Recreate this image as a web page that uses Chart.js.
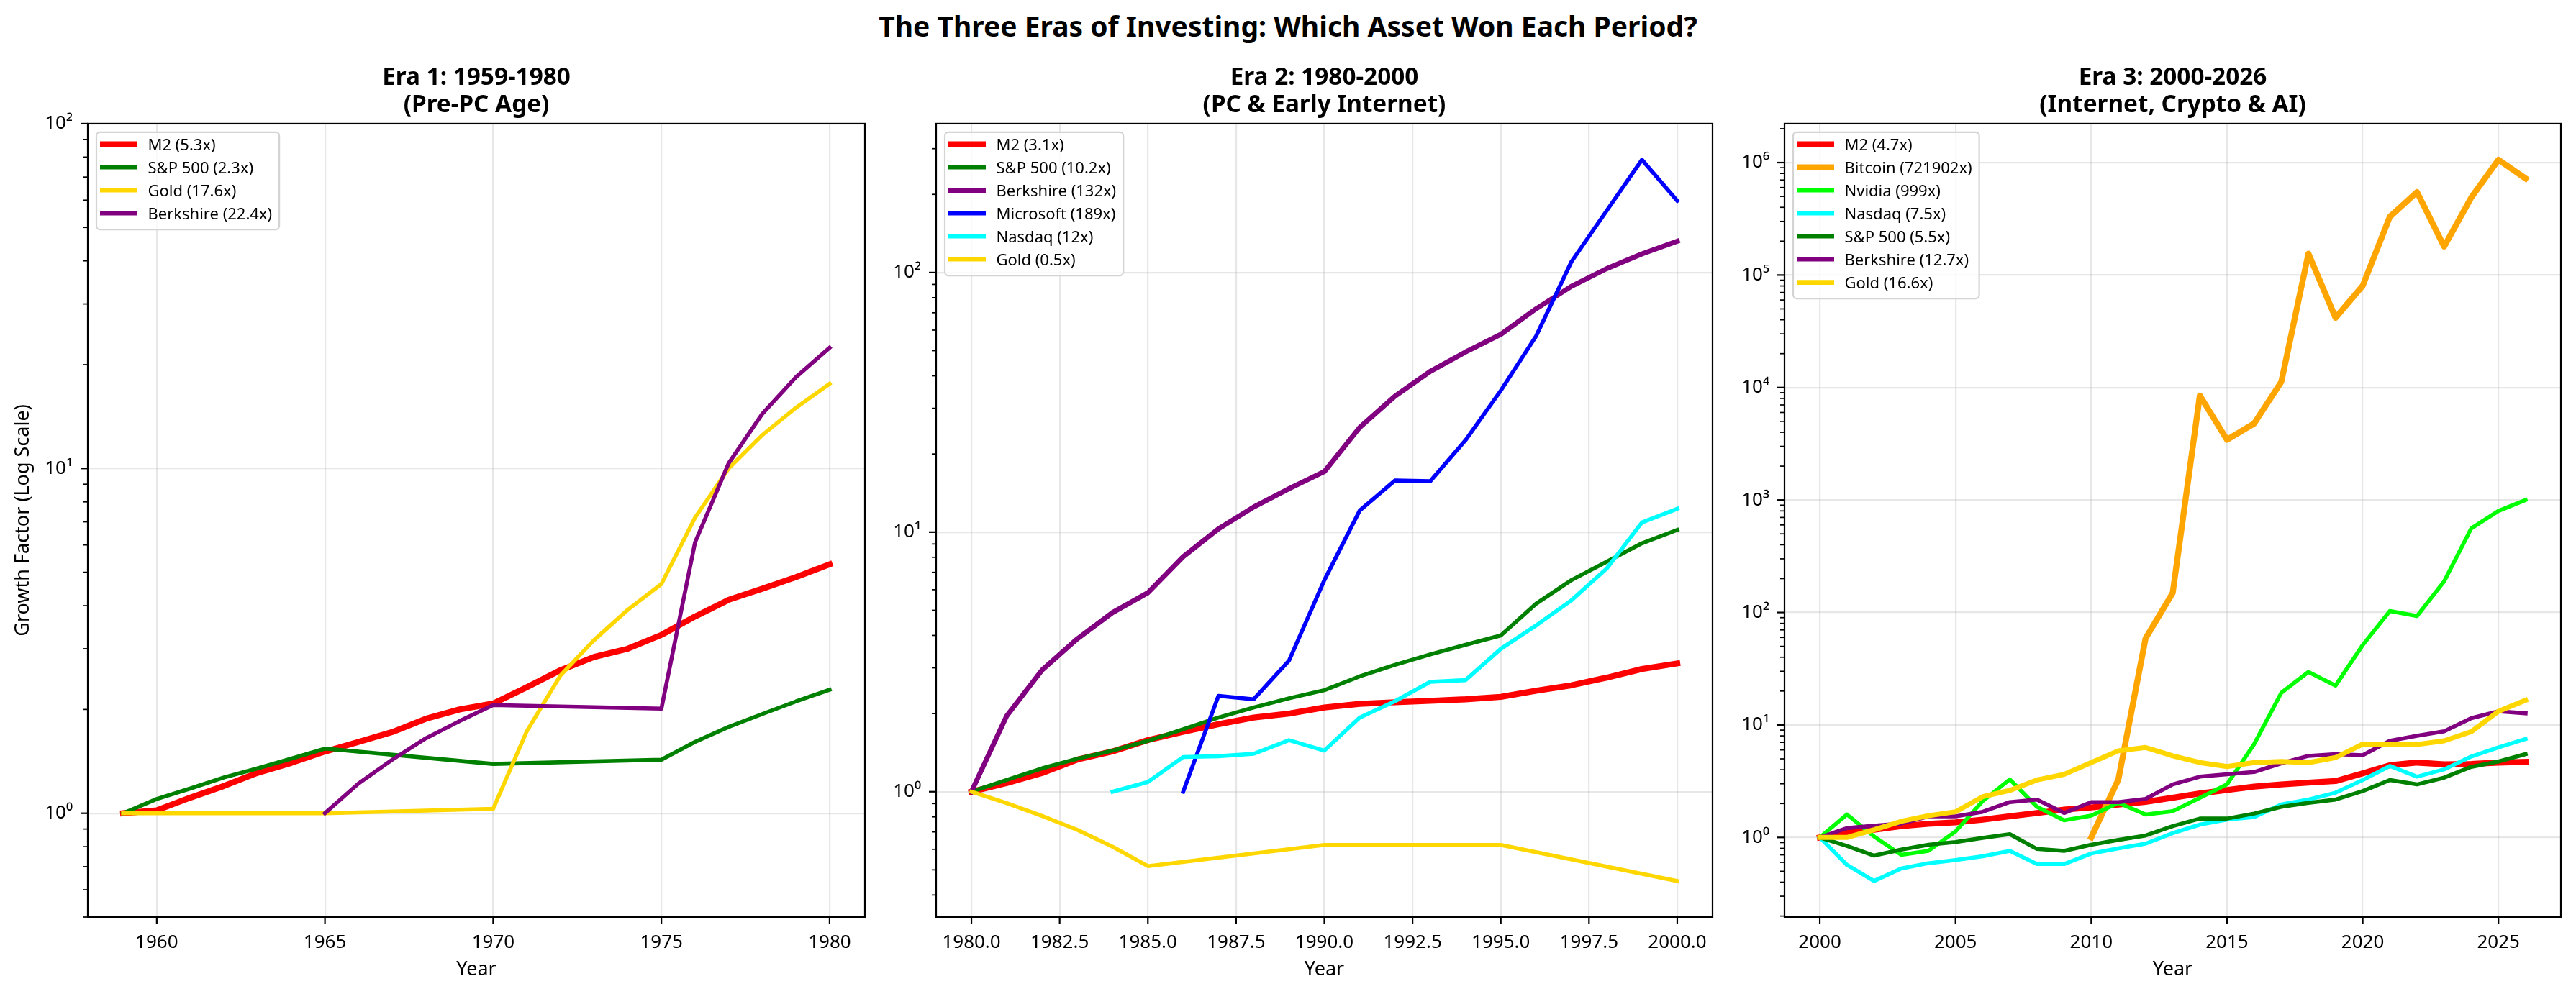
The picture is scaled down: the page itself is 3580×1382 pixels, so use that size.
<!DOCTYPE html>
<html>
<head>
<meta charset="utf-8">
<title>The Three Eras of Investing</title>
<script src="https://cdn.jsdelivr.net/npm/chart.js@4.4.1/dist/chart.umd.min.js"></script>
<style>
  html, body { margin: 0; padding: 0; background: #fff; }
  body { width: 3580px; height: 1382px; position: relative; overflow: hidden; }
  #suptitle { position: absolute; left: 0; top: 16px; width: 3580px; text-align: center;
              font: bold 39px/40px "Noto Sans", sans-serif; color: #000; }
  canvas { position: absolute; top: 0; }
</style>
</head>
<body>
<div id="suptitle">The Three Eras of Investing: Which Asset Won Each Period?</div>
<canvas id="era1" width="1324" height="1382" style="left:0px"></canvas>
<canvas id="era2" width="1221" height="1382" style="left:1230px"></canvas>
<canvas id="era3" width="1219" height="1382" style="left:2410px"></canvas>
<script>
// ---------- data (growth factor, start of each series = 1) ----------
const era1Years = [1959, 1960, 1961, 1962, 1963, 1964, 1965, 1966, 1967, 1968, 1969,
                   1970, 1971, 1972, 1973, 1974, 1975, 1976, 1977, 1978, 1979, 1980];
const era1M2   = [1.00, 1.02, 1.11, 1.20, 1.31, 1.40, 1.51, 1.61, 1.72, 1.88, 2.00,
                  2.08, 2.32, 2.60, 2.84, 3.00, 3.29, 3.72, 4.16, 4.48, 4.84, 5.27];
const era1SP   = [1.00, 1.10, 1.18, 1.27, 1.35, 1.44, 1.54, null, null, null, null,
                  1.39, null, null, null, null, 1.43, 1.61, 1.78, 1.94, 2.11, 2.28];
const era1Gold = [1.00, null, null, null, null, null, 1.00, null, null, null, null,
                  1.03, 1.73, 2.51, 3.18, 3.89, 4.62, 7.20, 10.0, 12.5, 15.0, 17.6];
const era1Berk = [null, null, null, null, null, null, 1.00, 1.22, 1.43, 1.65, 1.85,
                  2.06, null, null, null, null, 2.01, 6.10, 10.35, 14.4, 18.4, 22.4];
const era1Labels = ['M2 (5.3x)', 'S&P 500 (2.3x)', 'Gold (17.6x)', 'Berkshire (22.4x)'];
const era1Title = ['Era 1: 1959-1980', '(Pre-PC Age)'];
const era1XTicks = [1960, 1965, 1970, 1975, 1980];

const era2Years = [1980, 1981, 1982, 1983, 1984, 1985, 1986, 1987, 1988, 1989, 1990,
                   1991, 1992, 1993, 1994, 1995, 1996, 1997, 1998, 1999, 2000];
const era2M2     = [1.00, 1.08, 1.18, 1.33, 1.43, 1.58, 1.70, 1.82, 1.93, 2.00, 2.11,
                    2.18, 2.21, 2.24, 2.27, 2.32, 2.45, 2.57, 2.75, 2.97, 3.12];
const era2SP     = [1.00, 1.11, 1.23, 1.34, 1.44, 1.57, 1.74, 1.93, 2.11, 2.29, 2.46,
                    2.78, 3.08, 3.38, 3.68, 4.00, 5.30, 6.53, 7.69, 9.06, 10.2];
const era2Berk   = [1.00, 1.96, 2.94, 3.88, 4.90, 5.84, 8.04, 10.3, 12.5, 14.7, 17.1,
                    25.3, 33.4, 41.6, 49.4, 57.8, 72.5, 88.5, 103.5, 118, 132];
const era2MSFT   = [null, null, null, null, null, null, 1.00, 2.34, 2.27, 3.20, 6.53,
                    12.1, 15.8, 15.7, 22.6, 35.1, 56.9, 110, 173, 272, 189];
const era2Nasdaq = [null, null, null, null, 1.00, 1.09, 1.36, 1.37, 1.40, 1.58, 1.44,
                    1.93, 2.23, 2.65, 2.69, 3.55, 4.37, 5.46, 7.24, 10.9, 12.3];
const era2Gold   = [1.00, 0.904, 0.807, 0.713, 0.614, 0.517, null, null, null, null, 0.624,
                    null, null, null, null, 0.624, null, null, null, null, 0.453];
const era2Labels = ['M2 (3.1x)', 'S&P 500 (10.2x)', 'Berkshire (132x)', 'Microsoft (189x)', 'Nasdaq (12x)', 'Gold (0.5x)'];
const era2Title = ['Era 2: 1980-2000', '(PC & Early Internet)'];
const era2XTicks = [1980, 1982.5, 1985, 1987.5, 1990, 1992.5, 1995, 1997.5, 2000];

const era3Years = [2000, 2001, 2002, 2003, 2004, 2005, 2006, 2007, 2008, 2009, 2010, 2011, 2012, 2013,
                   2014, 2015, 2016, 2017, 2018, 2019, 2020, 2021, 2022, 2023, 2024, 2025, 2026];
const era3M2      = [1.00, 1.11, 1.17, 1.26, 1.32, 1.36, 1.44, 1.54, 1.65, 1.77, 1.85, 1.96, 2.07, 2.25,
                     2.46, 2.64, 2.83, 2.96, 3.07, 3.17, 3.71, 4.38, 4.63, 4.47, 4.50, 4.63, 4.70];
const era3Bitcoin = [null, null, null, null, null, null, null, null, null, null, 1.00, 3.28, 58.8, 149,
                     8500, 3437, 4786, 11200, 155000, 41700, 80300, 330000, 547000, 179000, 490000, 1060000, 721902];
const era3Nvidia  = [1.00, 1.60, 1.02, 0.70, 0.76, 1.13, 2.10, 3.28, 1.87, 1.42, 1.56, 2.03, 1.60, 1.71,
                     2.25, 2.96, 6.75, 19.3, 29.6, 22.4, 51.3, 103, 93, 189, 560, 800, 999];
const era3Nasdaq  = [1.00, 0.57, 0.41, 0.53, 0.59, 0.63, 0.68, 0.76, 0.58, 0.58, 0.72, 0.80, 0.88, 1.09,
                     1.30, 1.44, 1.52, 1.96, 2.17, 2.50, 3.24, 4.32, 3.47, 4.03, 5.24, 6.31, 7.50];
const era3SP      = [1.00, 0.84, 0.69, 0.78, 0.86, 0.91, 0.99, 1.07, 0.79, 0.76, 0.86, 0.95, 1.04, 1.26,
                     1.47, 1.47, 1.63, 1.87, 2.03, 2.17, 2.58, 3.24, 2.96, 3.40, 4.24, 4.73, 5.50];
const era3Berk    = [1.00, 1.21, 1.27, 1.33, 1.54, 1.54, 1.69, 2.06, 2.17, 1.65, 2.06, 2.06, 2.20, 2.96,
                     3.47, 3.64, 3.82, 4.56, 5.31, 5.50, 5.38, 7.23, 8.00, 8.77, 11.5, 13.2, 12.7];
const era3Gold    = [1.00, 1.00, 1.17, 1.39, 1.56, 1.69, 2.30, 2.62, 3.24, 3.64, 4.63, 5.89, 6.31, 5.31,
                     4.63, 4.27, 4.63, 4.73, 4.63, 5.13, 6.75, 6.70, 6.70, 7.23, 8.71, 13.2, 16.6];
const era3Labels = ['M2 (4.7x)', 'Bitcoin (721902x)', 'Nvidia (999x)', 'Nasdaq (7.5x)', 'S&P 500 (5.5x)', 'Berkshire (12.7x)', 'Gold (16.6x)'];
const era3Title = ['Era 3: 2000-2026', '(Internet, Crypto & AI)'];
const era3XTicks = [2000, 2005, 2010, 2015, 2020, 2025];

// ---------- styling ----------
const FONT = '"Noto Sans", "Open Sans", sans-serif';
Chart.defaults.font.family = FONT;
Chart.defaults.color = '#000';

const GRID = 'rgba(176,176,176,0.3)';
const LW2 = 5.56, LW25 = 6.94, LW3 = 8.33;   // matplotlib linewidths at 200 dpi

const SUP = { '-': '\u207B', '0': '\u2070', '1': '\u00B9', '2': '\u00B2', '3': '\u00B3', '4': '\u2074',
              '5': '\u2075', '6': '\u2076', '7': '\u2077', '8': '\u2078', '9': '\u2079' };

function isDecade(v) {
  const l = Math.log10(v);
  return Math.abs(l - Math.round(l)) < 1e-9;
}
function decadeLabel(v) {
  const e = String(Math.round(Math.log10(v)));
  return '10' + e.split('').map(c => SUP[c]).join('');
}
function logTicks(min, max) {
  const out = [];
  for (let e = Math.floor(Math.log10(min)); e <= Math.ceil(Math.log10(max)); e++) {
    for (let m = 1; m < 10; m++) {
      const v = m * Math.pow(10, e);
      if (v >= min * (1 - 1e-9) && v <= max * (1 + 1e-9)) out.push({ value: v });
    }
  }
  return out;
}
// matplotlib style autoscale: 5% margin (in log space for y)
function logLimits(series) {
  const vals = series.flat().filter(v => v !== null);
  const lo = Math.log10(Math.min(...vals)), hi = Math.log10(Math.max(...vals));
  const pad = (hi - lo) * 0.05;
  return [Math.pow(10, lo - pad), Math.pow(10, hi + pad)];
}
function yearLimits(years) {
  const a = years[0], b = years[years.length - 1], pad = (b - a) * 0.05;
  return [a - pad, b + pad];
}

// outward ticks (major/minor) and the four spines
const axisDecor = {
  id: 'axisDecor',
  afterDatasetsDraw(chart) {
    const { ctx, chartArea: a, scales: { x, y } } = chart;
    ctx.save();
    ctx.strokeStyle = '#000';
    ctx.lineCap = 'butt';
    ctx.lineWidth = 2.2;
    x.ticks.forEach(t => {
      const px = x.getPixelForValue(t.value);
      ctx.beginPath(); ctx.moveTo(px, a.bottom); ctx.lineTo(px, a.bottom + 10); ctx.stroke();
    });
    y.ticks.forEach(t => {
      const py = y.getPixelForValue(t.value);
      const major = isDecade(t.value);
      ctx.lineWidth = major ? 2.2 : 1.7;
      ctx.beginPath(); ctx.moveTo(a.left - (major ? 10 : 6), py); ctx.lineTo(a.left, py); ctx.stroke();
    });
    ctx.lineWidth = 2.2;
    ctx.strokeRect(a.left, a.top, a.right - a.left, a.bottom - a.top);
    ctx.restore();
  }
};

// legend box in the upper left of the plot
const frameLegend = {
  id: 'frameLegend',
  afterDraw(chart) {
    const { ctx, chartArea: a } = chart;
    const sets = chart.data.datasets;
    ctx.save();
    ctx.font = '22px ' + FONT;
    const textW = Math.max(...sets.map(s => ctx.measureText(s.label).width));
    const left = a.left + 12, top = a.top + 12;
    const w = 71.5 + textW + 10, h = 16.7 + (sets.length - 1) * 32 + 22.5, r = 5;
    ctx.beginPath();
    ctx.moveTo(left + r, top);
    ctx.arcTo(left + w, top, left + w, top + h, r);
    ctx.arcTo(left + w, top + h, left, top + h, r);
    ctx.arcTo(left, top + h, left, top, r);
    ctx.arcTo(left, top, left + w, top, r);
    ctx.closePath();
    ctx.fillStyle = 'rgba(255,255,255,0.8)';
    ctx.fill();
    ctx.strokeStyle = '#d4d4d4';
    ctx.lineWidth = 2.2;
    ctx.stroke();
    sets.forEach((s, i) => {
      const yy = top + 16.7 + i * 32;
      ctx.strokeStyle = s.borderColor;
      ctx.lineWidth = s.borderWidth;
      ctx.lineCap = 'butt';
      ctx.beginPath(); ctx.moveTo(left + 5, yy); ctx.lineTo(left + 57, yy); ctx.stroke();
      ctx.fillStyle = '#000';
      ctx.textBaseline = 'middle';
      ctx.textAlign = 'left';
      ctx.fillText(s.label, left + 71.5, yy + 2.5);
    });
    ctx.restore();
  }
};

function drawEra(id, p) {
  const [xMin, xMax] = yearLimits(p.years);
  const [yMin, yMax] = p.yRange || logLimits(p.series.map(s => s[1]));
  new Chart(document.getElementById(id), {
    type: 'line',
    data: {
      datasets: p.series.map((s, i) => ({
        label: s[0],
        data: p.years.map((x, k) => ({ x: x, y: s[1][k] })).filter(d => d.y !== null),
        borderColor: s[2],
        backgroundColor: s[2],
        borderWidth: s[3],
        pointRadius: 0,
        tension: 0,
        fill: false,
        borderJoinStyle: 'round',
        borderCapStyle: 'square',
        xAxisID: 'x',
        yAxisID: 'y',
        order: -i
      }))
    },
    options: {
      responsive: false,
      animation: false,
      events: [],
      devicePixelRatio: 1,
      layout: { padding: { top: 70, left: 0, right: 0, bottom: 0 } },
      plugins: {
        legend: { display: false },
        tooltip: { enabled: false },
        title: {
          display: true, text: p.title, color: '#000',
          font: { size: 33.3, weight: 'bold', lineHeight: 1.14 },
          padding: { top: 19.4, bottom: 6.6 }
        }
      },
      scales: {
        x: {
          type: 'linear', position: 'bottom', min: xMin, max: xMax, bounds: 'data',
          grid: { color: GRID, lineWidth: 2.2, drawTicks: false },
          border: { display: false },
          ticks: { autoSkip: false, maxRotation: 0, padding: 20, font: { size: 26 }, color: '#000', callback: p.xFmt },
          title: { display: true, text: 'Year', color: '#000', font: { size: 27 }, padding: { top: 0, bottom: 17.9 } },
          afterBuildTicks: s => { s.ticks = p.xTicks.map(v => ({ value: v })); },
          afterFit: s => { s.height = 107; }
        },
        y: {
          type: 'logarithmic', position: 'left', min: yMin, max: yMax, bounds: 'data',
          grid: {
            color: c => (c.tick && isDecade(c.tick.value)) ? GRID : 'rgba(0,0,0,0)',
            lineWidth: 2.2, drawTicks: false
          },
          border: { display: false },
          ticks: {
            autoSkip: false, padding: 21, font: { size: 26 }, color: '#000',
            major: { enabled: false },
            callback: v => isDecade(v) ? decadeLabel(v) : ''
          },
          title: { display: !!p.yTitle, text: p.yTitle || '', color: '#000', font: { size: 27 }, padding: { top: 15.8, bottom: 0 } },
          afterBuildTicks: s => { s.ticks = logTicks(yMin, yMax); },
          afterFit: s => { s.width = p.axisW; }
        },
        // empty axis on the right so the title centres over the plot
        pad: {
          type: 'linear', position: 'right', display: true,
          grid: { display: false }, border: { display: false }, ticks: { display: false },
          afterFit: s => { s.width = p.axisW; }
        }
      }
    },
    plugins: [axisDecor, frameLegend]
  });
}

drawEra('era1', {
  years: era1Years, title: era1Title, xTicks: era1XTicks, axisW: 122,
  yRange: [0.5, 100], yTitle: 'Growth Factor (Log Scale)', xFmt: v => String(v),
  series: [
    [era1Labels[0], era1M2, '#ff0000', LW3],
    [era1Labels[1], era1SP, '#008000', LW2],
    [era1Labels[2], era1Gold, '#ffd700', LW2],
    [era1Labels[3], era1Berk, '#800080', LW2]
  ]
});

drawEra('era2', {
  years: era2Years, title: era2Title, xTicks: era2XTicks, axisW: 71,
  xFmt: v => v.toFixed(1),
  series: [
    [era2Labels[0], era2M2, '#ff0000', LW3],
    [era2Labels[1], era2SP, '#008000', LW2],
    [era2Labels[2], era2Berk, '#800080', LW25],
    [era2Labels[3], era2MSFT, '#0000ff', LW2],
    [era2Labels[4], era2Nasdaq, '#00ffff', LW2],
    [era2Labels[5], era2Gold, '#ffd700', LW2]
  ]
});

drawEra('era3', {
  years: era3Years, title: era3Title, xTicks: era3XTicks, axisW: 70,
  xFmt: v => String(v),
  series: [
    [era3Labels[0], era3M2, '#ff0000', LW3],
    [era3Labels[1], era3Bitcoin, '#ffa500', LW3],
    [era3Labels[2], era3Nvidia, '#00ff00', LW2],
    [era3Labels[3], era3Nasdaq, '#00ffff', LW2],
    [era3Labels[4], era3SP, '#008000', LW2],
    [era3Labels[5], era3Berk, '#800080', LW2],
    [era3Labels[6], era3Gold, '#ffd700', LW25]
  ]
});
</script>
</body>
</html>
